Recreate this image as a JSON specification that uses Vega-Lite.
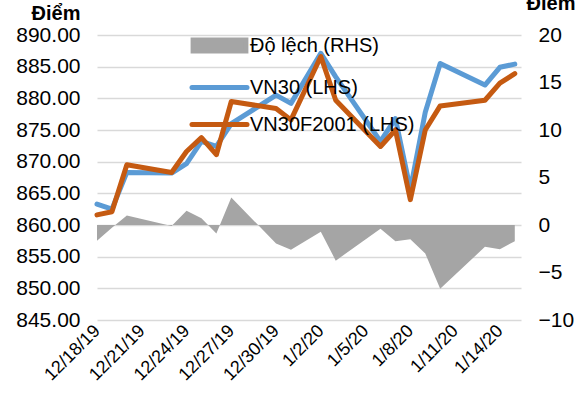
{
  "$schema": "https://vega.github.io/schema/vega-lite/v6.json",
  "width": 424,
  "height": 285,
  "autosize": {"type": "none"},
  "padding": {"left": 97, "top": 35, "right": 58, "bottom": 83},
  "config": {
    "font": "Liberation Sans",
    "view": {"stroke": null},
    "axis": {"labelColor": "#000000", "titleColor": "#000000", "domain": false, "ticks": false, "labelFontSize": 21, "gridColor": "#d9d9d9", "gridWidth": 1.5}
  },
  "data": {
    "values": [
      {"date": "2019-12-18", "series": "VN30 (LHS)", "value": 863.3},
      {"date": "2019-12-19", "series": "VN30 (LHS)", "value": 862.5},
      {"date": "2019-12-20", "series": "VN30 (LHS)", "value": 868.3},
      {"date": "2019-12-23", "series": "VN30 (LHS)", "value": 868.2},
      {"date": "2019-12-24", "series": "VN30 (LHS)", "value": 869.7},
      {"date": "2019-12-25", "series": "VN30 (LHS)", "value": 873.2},
      {"date": "2019-12-26", "series": "VN30 (LHS)", "value": 872.4},
      {"date": "2019-12-27", "series": "VN30 (LHS)", "value": 876.0},
      {"date": "2019-12-30", "series": "VN30 (LHS)", "value": 880.5},
      {"date": "2019-12-31", "series": "VN30 (LHS)", "value": 879.2},
      {"date": "2020-01-02", "series": "VN30 (LHS)", "value": 887.1},
      {"date": "2020-01-03", "series": "VN30 (LHS)", "value": 883.4},
      {"date": "2020-01-06", "series": "VN30 (LHS)", "value": 873.2},
      {"date": "2020-01-07", "series": "VN30 (LHS)", "value": 876.8},
      {"date": "2020-01-08", "series": "VN30 (LHS)", "value": 865.6},
      {"date": "2020-01-09", "series": "VN30 (LHS)", "value": 877.8},
      {"date": "2020-01-10", "series": "VN30 (LHS)", "value": 885.5},
      {"date": "2020-01-13", "series": "VN30 (LHS)", "value": 882.1},
      {"date": "2020-01-14", "series": "VN30 (LHS)", "value": 884.9},
      {"date": "2020-01-15", "series": "VN30 (LHS)", "value": 885.4},
      {"date": "2019-12-18", "series": "VN30F2001 (LHS)", "value": 861.6},
      {"date": "2019-12-19", "series": "VN30F2001 (LHS)", "value": 862.1},
      {"date": "2019-12-20", "series": "VN30F2001 (LHS)", "value": 869.5},
      {"date": "2019-12-23", "series": "VN30F2001 (LHS)", "value": 868.3},
      {"date": "2019-12-24", "series": "VN30F2001 (LHS)", "value": 871.6},
      {"date": "2019-12-25", "series": "VN30F2001 (LHS)", "value": 873.8},
      {"date": "2019-12-26", "series": "VN30F2001 (LHS)", "value": 871.1},
      {"date": "2019-12-27", "series": "VN30F2001 (LHS)", "value": 879.5},
      {"date": "2019-12-30", "series": "VN30F2001 (LHS)", "value": 878.4},
      {"date": "2019-12-31", "series": "VN30F2001 (LHS)", "value": 876.6},
      {"date": "2020-01-02", "series": "VN30F2001 (LHS)", "value": 886.6},
      {"date": "2020-01-03", "series": "VN30F2001 (LHS)", "value": 879.7},
      {"date": "2020-01-06", "series": "VN30F2001 (LHS)", "value": 872.4},
      {"date": "2020-01-07", "series": "VN30F2001 (LHS)", "value": 875.0},
      {"date": "2020-01-08", "series": "VN30F2001 (LHS)", "value": 864.0},
      {"date": "2020-01-09", "series": "VN30F2001 (LHS)", "value": 875.0},
      {"date": "2020-01-10", "series": "VN30F2001 (LHS)", "value": 878.8},
      {"date": "2020-01-13", "series": "VN30F2001 (LHS)", "value": 879.7},
      {"date": "2020-01-14", "series": "VN30F2001 (LHS)", "value": 882.4},
      {"date": "2020-01-15", "series": "VN30F2001 (LHS)", "value": 883.9},
      {"date": "2019-12-18", "series": "Độ lệch (RHS)", "value": -1.65},
      {"date": "2019-12-19", "series": "Độ lệch (RHS)", "value": -0.3},
      {"date": "2019-12-20", "series": "Độ lệch (RHS)", "value": 1.0},
      {"date": "2019-12-23", "series": "Độ lệch (RHS)", "value": -0.1},
      {"date": "2019-12-24", "series": "Độ lệch (RHS)", "value": 1.5},
      {"date": "2019-12-25", "series": "Độ lệch (RHS)", "value": 0.7},
      {"date": "2019-12-26", "series": "Độ lệch (RHS)", "value": -0.9},
      {"date": "2019-12-27", "series": "Độ lệch (RHS)", "value": 2.9},
      {"date": "2019-12-30", "series": "Độ lệch (RHS)", "value": -1.95},
      {"date": "2019-12-31", "series": "Độ lệch (RHS)", "value": -2.6},
      {"date": "2020-01-02", "series": "Độ lệch (RHS)", "value": -0.7},
      {"date": "2020-01-03", "series": "Độ lệch (RHS)", "value": -3.75},
      {"date": "2020-01-06", "series": "Độ lệch (RHS)", "value": -0.4},
      {"date": "2020-01-07", "series": "Độ lệch (RHS)", "value": -1.7},
      {"date": "2020-01-08", "series": "Độ lệch (RHS)", "value": -1.5},
      {"date": "2020-01-09", "series": "Độ lệch (RHS)", "value": -3.0},
      {"date": "2020-01-10", "series": "Độ lệch (RHS)", "value": -6.7},
      {"date": "2020-01-13", "series": "Độ lệch (RHS)", "value": -2.3},
      {"date": "2020-01-14", "series": "Độ lệch (RHS)", "value": -2.55},
      {"date": "2020-01-15", "series": "Độ lệch (RHS)", "value": -1.7}
    ]
  },
  "layer": [
    {
      "transform": [{"filter": "datum.series === 'Độ lệch (RHS)'"}],
      "mark": {"type": "area", "color": "#a5a5a5", "opacity": 1},
      "encoding": {
        "x": {
          "field": "date",
          "type": "temporal",
          "scale": {"type": "utc", "domain": [{"year": 2019, "month": 12, "date": 18, "utc": true}, {"year": 2020, "month": 1, "date": 15, "hours": 10, "utc": true}]},
          "axis": {
            "title": null,
            "grid": false,
            "values": [
              {"year": 2019, "month": 12, "date": 18, "utc": true},
              {"year": 2019, "month": 12, "date": 21, "utc": true},
              {"year": 2019, "month": 12, "date": 24, "utc": true},
              {"year": 2019, "month": 12, "date": 27, "utc": true},
              {"year": 2019, "month": 12, "date": 30, "utc": true},
              {"year": 2020, "month": 1, "date": 2, "utc": true},
              {"year": 2020, "month": 1, "date": 5, "utc": true},
              {"year": 2020, "month": 1, "date": 8, "utc": true},
              {"year": 2020, "month": 1, "date": 11, "utc": true},
              {"year": 2020, "month": 1, "date": 14, "utc": true}
            ],
            "labelExpr": "utcFormat(datum.value, '%-m/%-d/%y')",
            "labelAngle": -45,
            "labelAlign": "right",
            "labelBaseline": "middle",
            "labelFontSize": 18,
            "labelPadding": 8,
            "labelOverlap": false,
            "labelBound": false
          }
        },
        "y": {
          "field": "value",
          "type": "quantitative",
          "scale": {"domain": [-10, 20], "nice": false, "zero": false},
          "axis": {
            "orient": "right",
            "values": [-10, -5, 0, 5, 10, 15, 20],
            "grid": false,
            "labelPadding": 17,
            "title": "Điểm",
            "titleAngle": 0,
            "titleAlign": "right",
            "titleBaseline": "alphabetic",
            "titleX": 54,
            "titleY": -26,
            "titleFontSize": 20,
            "titleFontWeight": "bold"
          }
        },
        "y2": {"datum": 0}
      }
    },
    {
      "transform": [{"filter": "datum.series !== 'Độ lệch (RHS)'"}],
      "mark": {"type": "line", "strokeWidth": 5, "strokeJoin": "round", "strokeCap": "round"},
      "encoding": {
        "x": {"field": "date", "type": "temporal"},
        "y": {
          "field": "value",
          "type": "quantitative",
          "scale": {"domain": [845, 890], "nice": false, "zero": false},
          "axis": {
            "orient": "left",
            "values": [845, 850, 855, 860, 865, 870, 875, 880, 885, 890],
            "format": ".2f",
            "grid": true,
            "labelPadding": 17,
            "title": "Điểm",
            "titleAngle": 0,
            "titleAlign": "right",
            "titleBaseline": "alphabetic",
            "titleX": -17,
            "titleY": -16,
            "titleFontSize": 20,
            "titleFontWeight": "bold"
          }
        },
        "color": {
          "field": "series",
          "type": "nominal",
          "scale": {"domain": ["Độ lệch (RHS)", "VN30 (LHS)", "VN30F2001 (LHS)"], "range": ["#a5a5a5", "#5b9bd5", "#c55a11"]},
          "legend": {
            "title": null,
            "orient": "none",
            "legendX": 109,
            "legendY": -3,
            "padding": 0,
            "rowPadding": 13,
            "symbolSize": 484,
            "symbolStrokeWidth": 5,
            "labelOffset": 17,
            "labelFontSize": 20,
            "labelColor": "#000000",
            "labelLimit": 400,
            "encode": {
              "symbols": {
                "update": {
                  "shape": {"signal": "datum.value === 'Độ lệch (RHS)' ? 'M-2.4,-0.5H2.4V0.5H-2.4Z' : 'M-2.5,0H2.5'"},
                  "fill": {"signal": "datum.value === 'Độ lệch (RHS)' ? '#a5a5a5' : 'transparent'"},
                  "stroke": {"signal": "datum.value === 'Độ lệch (RHS)' ? 'transparent' : (datum.value === 'VN30 (LHS)' ? '#5b9bd5' : '#c55a11')"},
                  "strokeWidth": {"value": 5},
                  "strokeCap": {"value": "round"},
                  "opacity": {"value": 1}
                }
              }
            }
          }
        }
      }
    }
  ],
  "resolve": {"scale": {"y": "independent"}}
}
